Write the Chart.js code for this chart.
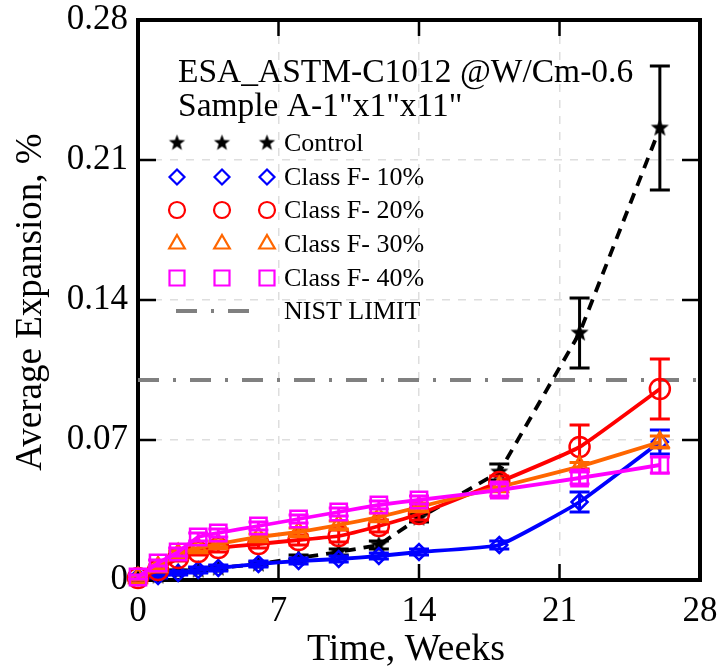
<!DOCTYPE html>
<html>
<head>
<meta charset="utf-8">
<script src="https://cdn.jsdelivr.net/npm/chart.js@4/dist/chart.umd.min.js"></script>
<style>
  html, body { margin: 0; padding: 0; background: #fff; }
  #chart { display: block; }
</style>
</head>
<body>
<canvas id="chart" width="718" height="671"></canvas>
<script>
// time axis (weeks) and tick labels
const weeks = [0, 1, 2, 3, 4, 6, 8, 10, 12, 14, 18, 22, 26];
const xTickValues = [0, 7, 14, 21, 28];
const yTickValues = [0, 0.07, 0.14, 0.21, 0.28];
const yTickLabels = ['0', '0.07', '0.14', '0.21', '0.28'];

// average expansion, %
const control   = [0.000, 0.002, 0.004, 0.005, 0.006, 0.008, 0.011, 0.014, 0.0175, 0.031, 0.054, 0.1235, 0.226];
const controlErr = [0.001, 0.001, 0.001, 0.001, 0.001, 0.001, 0.0015, 0.0015, 0.002, 0.002, 0.004, 0.0175, 0.031];
const classF10  = [0.0015, 0.002, 0.0035, 0.005, 0.006, 0.008, 0.0095, 0.0105, 0.012, 0.014, 0.0175, 0.039, 0.069];
const classF10Err = [0.001, 0.001, 0.001, 0.0015, 0.0015, 0.0015, 0.0015, 0.0015, 0.0015, 0.0015, 0.002, 0.005, 0.006];
const classF20  = [0.001, 0.005, 0.011, 0.014, 0.016, 0.018, 0.020, 0.022, 0.027, 0.033, 0.049, 0.0665, 0.0955];
const classF20Err = [0.001, 0.001, 0.0015, 0.0015, 0.002, 0.002, 0.0025, 0.003, 0.003, 0.003, 0.003, 0.011, 0.015];
const classF30  = [0.001, 0.0065, 0.013, 0.016, 0.018, 0.0215, 0.024, 0.0275, 0.0315, 0.0365, 0.0465, 0.0567, 0.069];
const classF30Err = [0.001, 0.001, 0.0015, 0.0015, 0.0015, 0.0015, 0.002, 0.002, 0.002, 0.002, 0.002, 0.002, 0.003];
const classF40  = [0.0015, 0.0085, 0.014, 0.0215, 0.0235, 0.027, 0.0305, 0.034, 0.0375, 0.040, 0.045, 0.051, 0.0575];
const classF40Err = [0.001, 0.0015, 0.002, 0.002, 0.002, 0.002, 0.002, 0.002, 0.002, 0.002, 0.003, 0.003, 0.004];

// NIST limit line
const nistX = [0, 28];
const nistLimit = [0.1, 0.1];

const titleLines = ['ESA_ASTM-C1012 @W/Cm-0.6', 'Sample A-1"x1"x11"'];
const legendLabels = ['Control', 'Class F- 10%', 'Class F- 20%', 'Class F- 30%', 'Class F- 40%', 'NIST LIMIT'];

const FONT = '"Liberation Serif", "Times New Roman", serif';

// filled five point star marker
function makeStar(r) {
  const c = document.createElement('canvas');
  const s = Math.ceil(r * 2) + 2;
  c.width = c.height = s;
  const g = c.getContext('2d');
  g.fillStyle = '#000';
  g.beginPath();
  for (let k = 0; k < 10; k++) {
    const rad = k % 2 ? r * 0.42 : r;
    const a = -Math.PI / 2 + k * Math.PI / 5;
    g.lineTo(s / 2 + rad * Math.cos(a), s / 2 + rad * Math.sin(a));
  }
  g.closePath();
  g.fill();
  return c;
}
const starBig = makeStar(9.5);
const starSmall = makeStar(8.5);

function pts(vals, xs) {
  xs = xs || weeks;
  return vals.map((v, i) => ({ x: xs[i], y: v }));
}

const series = [
  { label: legendLabels[0], vals: control, err: controlErr, color: '#000000', style: starBig, legendStyle: starSmall, r: 9, lr: 8, dash: [11, 8], tension: 0, order: 4 },
  { label: legendLabels[1], vals: classF10, err: classF10Err, color: '#0000ff', style: 'rectRot', r: 8, lr: 7.5, order: 3 },
  { label: legendLabels[2], vals: classF20, err: classF20Err, color: '#ff0000', style: 'circle', r: 10, lr: 8, order: 2 },
  { label: legendLabels[3], vals: classF30, err: classF30Err, color: '#ff6600', style: 'triangle', r: 10, lr: 9, order: 1 },
  { label: legendLabels[4], vals: classF40, err: classF40Err, color: '#ff00ff', style: 'rect', r: 11.5, lr: 10.6, order: 0 }
];

const datasets = series.map(s => ({
  label: s.label,
  data: pts(s.vals),
  errors: s.err,
  borderColor: s.color,
  borderWidth: 3.8,
  borderDash: s.dash || [],
  tension: s.tension !== undefined ? s.tension : 0.12,
  pointStyle: s.style,
  pointRadius: s.r,
  pointBorderWidth: 2.5,
  pointBorderColor: s.color,
  pointBackgroundColor: 'rgba(0,0,0,0)',
  clip: false,
  order: s.order
}));

datasets.push({
  label: legendLabels[5],
  data: pts(nistLimit, nistX),
  borderColor: '#808080',
  borderWidth: 4,
  borderDash: [21, 14, 3, 14],
  pointRadius: 0,
  order: 10
});

function drawMarker(ctx, style, r, color, x, y) {
  if (typeof style !== 'string') {
    ctx.drawImage(style, x - style.width / 2, y - style.height / 2);
    return;
  }
  ctx.save();
  ctx.strokeStyle = color;
  ctx.fillStyle = 'rgba(0,0,0,0)';
  ctx.lineWidth = 2.2;
  Chart.helpers.drawPoint(ctx, { pointStyle: style, radius: r, borderWidth: 2.2, rotation: 0 }, x, y);
  ctx.restore();
}

const decor = {
  id: 'decor',
  beforeDatasetsDraw(chart) {
    const { ctx, chartArea: a, scales: { x, y } } = chart;
    ctx.save();
    ctx.strokeStyle = '#000';
    ctx.lineWidth = 2.5;
    ctx.beginPath();
    xTickValues.slice(1, -1).forEach(v => {
      const px = x.getPixelForValue(v);
      ctx.moveTo(px, a.bottom); ctx.lineTo(px, a.bottom - 16);
      ctx.moveTo(px, a.top); ctx.lineTo(px, a.top + 16);
    });
    yTickValues.slice(1, -1).forEach(v => {
      const py = y.getPixelForValue(v);
      ctx.moveTo(a.left, py); ctx.lineTo(a.left + 18, py);
      ctx.moveTo(a.right, py); ctx.lineTo(a.right - 18, py);
    });
    ctx.stroke();
    ctx.lineWidth = 4;
    ctx.strokeRect(a.left, a.top, a.right - a.left, a.bottom - a.top);
    ctx.restore();
  },
  afterDatasetDraw(chart, args) {
    const ds = chart.data.datasets[args.index];
    if (!ds.errors) return;
    const { ctx, scales: { x, y } } = chart;
    ctx.save();
    ctx.strokeStyle = ds.borderColor;
    ctx.lineWidth = 3;
    ctx.beginPath();
    ds.data.forEach((p, i) => {
      const px = x.getPixelForValue(p.x);
      const top = y.getPixelForValue(p.y + ds.errors[i]);
      const bot = y.getPixelForValue(p.y - ds.errors[i]);
      ctx.moveTo(px, top); ctx.lineTo(px, bot);
      ctx.moveTo(px - 10, top); ctx.lineTo(px + 10, top);
      ctx.moveTo(px - 10, bot); ctx.lineTo(px + 10, bot);
    });
    ctx.stroke();
    ctx.restore();
  },
  afterDraw(chart) {
    const { ctx } = chart;
    ctx.save();
    ctx.fillStyle = '#000';
    // axis titles
    ctx.font = '38px ' + FONT;
    ctx.textAlign = 'center';
    ctx.textBaseline = 'alphabetic';
    ctx.fillText('Time, Weeks', 406, 660);
    ctx.font = '37px ' + FONT;
    ctx.save();
    ctx.translate(41, 302);
    ctx.rotate(-Math.PI / 2);
    ctx.fillText('Average Expansion, %', 0, 0);
    ctx.restore();

    // title lines inside plot
    ctx.textAlign = 'left';
    ctx.font = '33.5px ' + FONT;
    ctx.fillText(titleLines[0], 178, 82);
    ctx.fillText(titleLines[1], 178, 116);

    // legend
    const rowY = [143, 177, 210, 244, 278, 311];
    const markX = [177, 222, 267];
    ctx.font = '26px ' + FONT;
    series.forEach((s, i) => {
      markX.forEach(mx => drawMarker(ctx, s.legendStyle || s.style, s.lr, s.color, mx, rowY[i]));
      ctx.fillStyle = '#000';
      ctx.fillText(s.label, 284, rowY[i] + 8);
    });
    ctx.strokeStyle = '#808080';
    ctx.lineWidth = 4;
    ctx.setLineDash([21, 14, 3, 14]);
    ctx.beginPath();
    ctx.moveTo(176, rowY[5]); ctx.lineTo(258, rowY[5]);
    ctx.stroke();
    ctx.setLineDash([]);
    ctx.fillText(legendLabels[5], 284, rowY[5] + 8);
    ctx.restore();
  }
};

const gridColor = (edges) => c => (c.tick && edges.includes(c.tick.value)) ? 'rgba(0,0,0,0)' : '#dedede';

new Chart(document.getElementById('chart'), {
  type: 'line',
  data: { datasets },
  options: {
    responsive: false,
    devicePixelRatio: 1,
    animation: false,
    events: [],
    layout: { padding: { top: 20, right: 18, left: 0, bottom: 0 } },
    plugins: { legend: { display: false }, tooltip: { enabled: false } },
    scales: {
      x: {
        type: 'linear',
        min: 0, max: 28,
        afterBuildTicks: s => { s.ticks = xTickValues.map(v => ({ value: v })); },
        afterFit: s => { s.height = 91; s.paddingLeft = 0; s.paddingRight = 0; },
        ticks: { color: '#000', font: { family: FONT, size: 35 }, padding: 11, maxRotation: 0 },
        grid: { color: gridColor([0, 28]), lineWidth: 1.5, drawTicks: false },
        border: { display: false, dash: [8, 8] }
      },
      y: {
        type: 'linear',
        min: 0, max: 0.28,
        afterBuildTicks: s => { s.ticks = yTickValues.map(v => ({ value: v })); },
        afterFit: s => { s.width = 138; s.paddingTop = 0; s.paddingBottom = 0; },
        ticks: { color: '#000', font: { family: FONT, size: 35 }, padding: 10, callback: (v, i) => yTickLabels[i] },
        grid: { color: gridColor([0, 0.28]), lineWidth: 1.5, drawTicks: false },
        border: { display: false, dash: [8, 8] }
      }
    }
  },
  plugins: [decor]
});
</script>
</body>
</html>
